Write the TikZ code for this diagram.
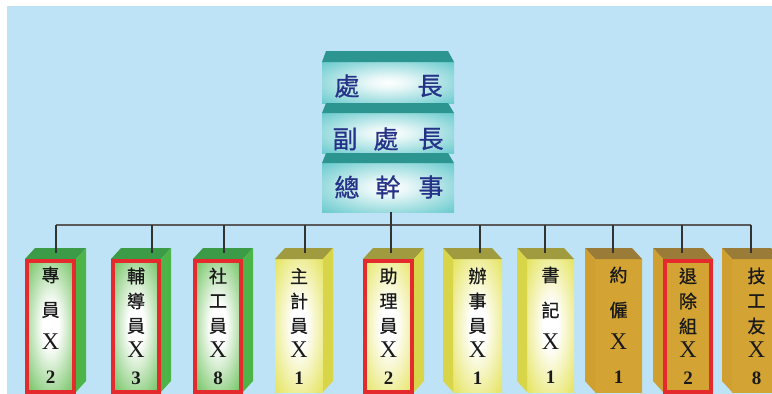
\documentclass[tikz,border=0pt]{standalone}
\usepackage{fontspec}
\newfontfamily\cjk{Noto Sans CJK TC}[FakeBold=0.8]
\newfontfamily\rom{Liberation Serif}
\definecolor{bg}{HTML}{BEE3F6}
\definecolor{gF}{HTML}{62BC50}
\definecolor{gS}{HTML}{4DB548}
\definecolor{gT}{HTML}{3B9B46}
\definecolor{yF}{HTML}{E4E35A}
\definecolor{yS}{HTML}{D8D548}
\definecolor{yT}{HTML}{A09B3E}
\definecolor{oF}{HTML}{D3A433}
\definecolor{oS}{HTML}{CFA030}
\definecolor{oT}{HTML}{9B7B38}
\definecolor{tF}{HTML}{5DC6CA}
\definecolor{tT}{HTML}{2C958F}
\definecolor{frame}{HTML}{E52A2E}
\definecolor{navy}{HTML}{263287}
\definecolor{txt}{HTML}{1A1A1A}
\definecolor{busc}{HTML}{5A5A5A}
\definecolor{dropc}{HTML}{333333}
\pgfdeclareradialshading{greenglow}{\pgfpoint{0bp}{0bp}}{color(0bp)=(white); color(8bp)=(white); color(36bp)=(gF); color(50bp)=(gF)}
\pgfdeclareradialshading{yellowglow}{\pgfpoint{0bp}{0bp}}{color(0bp)=(white); color(8bp)=(white); color(36bp)=(yF); color(50bp)=(yF)}
\pgfdeclareradialshading{goldflat}{\pgfpoint{0bp}{0bp}}{color(0bp)=(oF); color(50bp)=(oF)}
\pgfdeclareradialshading{tealglow}{\pgfpoint{0bp}{0bp}}{color(0bp)=(white); color(8bp)=(white!85!tF); color(38bp)=(tF); color(50bp)=(tF)}
\tikzset{
  frontface/.style={inner sep=0pt, outer sep=0pt, minimum height=133pt, draw=none},
  topface/.style={inner sep=0pt, outer sep=0pt, minimum width=132pt, shade, shading=tealglow, draw=none},
  toplbl/.style={font=\cjk\fontsize{25}{25}\selectfont, text=navy, inner sep=0pt},
  cj/.style={font=\cjk\fontsize{18}{18}\selectfont, text=txt, inner sep=0pt},
  xl/.style={font=\rom\fontsize{24}{24}\selectfont, text=txt, inner sep=0pt},
  nl/.style={font=\rom\bfseries\fontsize{19}{19}\selectfont, text=txt, inner sep=0pt},
  redframe/.style={draw=frame, line width=4pt},
  bus/.style={draw=busc, line width=1.5pt},
  drop/.style={draw=dropc, line width=1.2pt},
}
% name, cx, width, shading, top colour, side colour
\newcommand\bboxR[6]{%
  \node[frontface, minimum width=#3pt, shade, shading=#4] (#1) at (#2,325.5) {};
  \fill[#5] (#1.north west) -- (#1.north east) -- ++(10,-11) -- ([shift={(10pt,11pt)}]#1.north west) -- cycle;
  \fill[#6] (#1.north east) -- ++(10,-11) -- ++(0,133) -- (#1.south east) -- cycle;
}
\newcommand\bboxL[6]{%
  \node[frontface, minimum width=#3pt, shade, shading=#4] (#1) at (#2,325.5) {};
  \fill[#5] (#1.north west) -- (#1.north east) -- ++(-10,-11) -- ([shift={(-10pt,11pt)}]#1.north west) -- cycle;
  \fill[#6] (#1.north west) -- ++(-10,-11) -- ++(0,133) -- (#1.south west) -- cycle;
}
\newcommand\redbox[1]{%
  \draw[redframe] ([shift={(2pt,-2pt)}]#1.north west) rectangle ([shift={(-2pt,0pt)}]#1.south east);
}
% name, cx, a, b, digit
\newcommand\rowsfour[5]{%
  \node[cj] (#1a) at (#2,275) {#3};
  \node[cj] (#1b) at (#2,310) {#4};
  \node[xl] (#1x) at (#2,342) {X};
  \node[nl] (#1n) at (#2,377) {#5};
}
\newcommand\rowsfive[6]{%
  \node[cj] (#1a) at (#2,276) {#3};
  \node[cj] (#1b) at (#2,301) {#4};
  \node[cj] (#1c) at (#2,326) {#5};
  \node[xl] (#1x) at (#2,350) {X};
  \node[nl] (#1n) at (#2,378) {#6};
}
\begin{document}
\begin{tikzpicture}[x=1pt,y=-1pt]
\useasboundingbox (0,0) rectangle (772,394);
\clip (0,0) rectangle (772,394);
\fill[white] (0,0) rectangle (772,394);
\fill[bg] (7,6) rectangle (772,394);

% top boxes
\node[topface, minimum height=41pt] (T1) at (388,82.5) {};
\fill[tT] (T1.north west) -- (T1.north east) -- ([shift={(-6pt,11pt)}]T1.north east) -- ([shift={(4pt,11pt)}]T1.north west) -- cycle;
\node[topface, minimum height=40pt] (T2) at (388,133) {};
\fill[tT] (T2.north west) -- (T2.north east) -- ([shift={(-6pt,10pt)}]T2.north east) -- ([shift={(4pt,10pt)}]T2.north west) -- cycle;
\node[topface, minimum height=49pt] (T3) at (388,187.5) {};
\fill[tT] (T3.north west) -- (T3.north east) -- ([shift={(-6pt,10pt)}]T3.north east) -- ([shift={(4pt,10pt)}]T3.north west) -- cycle;

\node[toplbl] (T1a) at (347,86) {處};
\node[toplbl] (T1b) at (430,86) {長};
\node[toplbl] (T2a) at (345,139) {副};
\node[toplbl] (T2b) at (386,139) {處};
\node[toplbl] (T2c) at (431,139) {長};
\node[toplbl] (T3a) at (347,187) {總};
\node[toplbl] (T3b) at (388,187) {幹};
\node[toplbl] (T3c) at (431,187) {事};

% bottom boxes
\bboxR{b1}{50.5}{51}{greenglow}{gT}{gS}
\bboxR{b2}{136}{50}{greenglow}{gT}{gS}
\bboxR{b3}{218}{50}{greenglow}{gT}{gS}
\bboxR{b4}{299}{48}{yellowglow}{yT}{yS}
\bboxR{b5}{388.5}{51}{yellowglow}{yT}{yS}
\bboxL{b6}{477.5}{49}{yellowglow}{yT}{yS}
\bboxL{b7}{550.5}{47}{yellowglow}{yT}{yS}
\bboxL{b8}{618.5}{47}{goldflat}{oT}{oS}
\bboxL{b9}{688}{50}{goldflat}{oT}{oS}
\bboxL{b10}{756.5}{49}{goldflat}{oT}{oS}

\redbox{b1}
\redbox{b2}
\redbox{b3}
\redbox{b5}
\redbox{b9}

\rowsfour{l1}{50.5}{專}{員}{2}
\rowsfive{l2}{136}{輔}{導}{員}{3}
\rowsfive{l3}{218}{社}{工}{員}{8}
\rowsfive{l4}{299}{主}{計}{員}{1}
\rowsfive{l5}{388.5}{助}{理}{員}{2}
\rowsfive{l6}{477.5}{辦}{事}{員}{1}
\rowsfour{l7}{550.5}{書}{記}{1}
\rowsfour{l8}{618.5}{約}{僱}{1}
\rowsfive{l9}{688}{退}{除}{組}{2}
\rowsfive{l10}{756.5}{技}{工}{友}{8}

% connectors
\coordinate (d1) at (56,253);
\coordinate (d2) at (152,253);
\coordinate (d3) at (224,253);
\coordinate (d4) at (305,253);
\coordinate (d5) at (391,253);
\coordinate (d6) at (480,253);
\coordinate (d7) at (545,253);
\coordinate (d8) at (613,253);
\coordinate (d9) at (682,253);
\coordinate (d10) at (751,253);
\coordinate (busL) at (56,225);
\coordinate (busR) at (751,225);
\draw[bus] (busL) -- (busR);
\foreach \i in {1,...,10}{\draw[drop] (busL -| d\i) -- (d\i);}
\draw[drop] (T3.south -| d5) -- (d5);
\end{tikzpicture}
\end{document}
